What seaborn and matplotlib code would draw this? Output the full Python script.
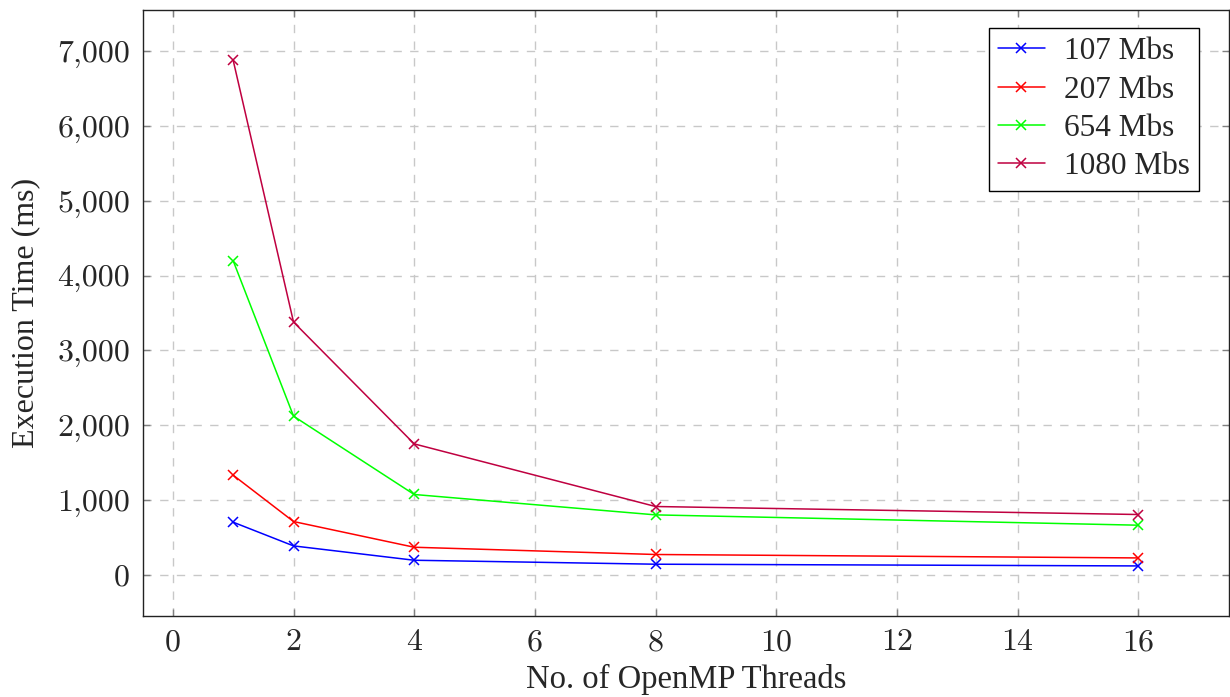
import matplotlib
matplotlib.use("Agg")
import matplotlib.pyplot as plt
import seaborn as sns
import pandas as pd
from matplotlib.ticker import FuncFormatter

threads = [1, 2, 4, 8, 16]
s107 = [700, 383, 191, 138, 115]
s207 = [1329, 709, 365, 268, 222]
s654 = [4198, 2119, 1071, 798, 660]
s1080 = [6880, 3378, 1748, 910, 803]
labels = ["107 Mbs", "207 Mbs", "654 Mbs", "1080 Mbs"]
colors = ["#0000ff", "#ff0000", "#00ff00", "#bf0040"]
xticks = [0, 2, 4, 6, 8, 10, 12, 14, 16]
yticks = [0, 1000, 2000, 3000, 4000, 5000, 6000, 7000]

sns.set_theme(style="white")
plt.rcParams["font.family"] = ["Liberation Serif", "DejaVu Serif"]

fig = plt.figure(figsize=(12.3, 6.97), dpi=100)
ax = fig.add_axes([0.116, 0.116, 0.883, 0.870])

frames = []
for lab, vals in zip(labels, [s107, s207, s654, s1080]):
    frames.append(pd.DataFrame({"threads": threads, "time": vals, "size": lab}))
df = pd.concat(frames, ignore_index=True)

for lab, col in zip(labels, colors):
    sub = df[df["size"] == lab]
    sns.lineplot(data=sub, x="threads", y="time", color=col, marker="x",
                 markersize=7, markeredgewidth=1.1, markeredgecolor=col,
                 markerfacecolor=col, linewidth=1.1, label=lab, ax=ax)

ax.set_xlim(-0.5, 17.5)
ax.set_ylim(-557, 7557)
ax.set_xticks(xticks)
ax.set_yticks(yticks)
ax.yaxis.set_major_formatter(FuncFormatter(lambda v, p: f"{int(v):,}"))

ax.grid(True, which="major", color="#c8c8c8", linestyle=(0, (6, 6)), linewidth=1.0)
ax.tick_params(axis="both", which="major", direction="in", length=5, width=1,
               color="#808080", top=True, right=True, bottom=True, left=True,
               labelsize=23, pad=9)
for lbl in ax.get_xticklabels() + ax.get_yticklabels():
    lbl.set_fontfamily(["cmr10", "DejaVu Serif"])

for sp in ax.spines.values():
    sp.set_color("#222222")
    sp.set_linewidth(1.0)

ax.set_xlabel("No. of OpenMP Threads", fontsize=23.5, labelpad=6)
ax.set_ylabel("Execution Time (ms)", fontsize=23, labelpad=12)

leg = ax.legend(loc="upper right", bbox_to_anchor=(0.9724, 0.9703),
                borderaxespad=0, fontsize=22.5, frameon=True, fancybox=False,
                edgecolor="black", framealpha=1.0, handlelength=1.5,
                handletextpad=0.6, borderpad=0.3, labelspacing=0.3)
leg.get_frame().set_linewidth(1.0)

fig.savefig("out.png", dpi=100)
